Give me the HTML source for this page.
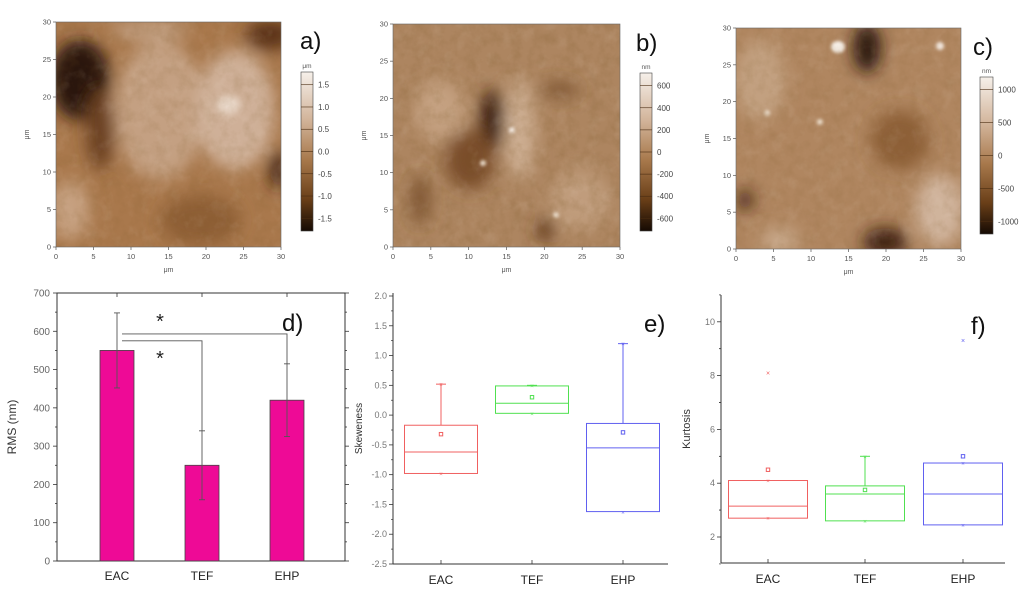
<!DOCTYPE html>
<html><head><meta charset="utf-8"><style>
html,body{margin:0;padding:0;background:#fff;}
svg{display:block;font-family:"Liberation Sans",sans-serif;}
</style></head><body>
<svg id="fig" width="1024" height="589" viewBox="0 0 1024 589" xmlns="http://www.w3.org/2000/svg">
<defs>
<filter id="blur8" x="-50%" y="-50%" width="200%" height="200%"><feGaussianBlur stdDeviation="8"/></filter>
<filter id="blur4" x="-50%" y="-50%" width="200%" height="200%"><feGaussianBlur stdDeviation="4"/></filter>
<filter id="blur2" x="-50%" y="-50%" width="200%" height="200%"><feGaussianBlur stdDeviation="1.5"/></filter>
<filter id="noise" x="0" y="0" width="100%" height="100%">
<feTurbulence type="fractalNoise" baseFrequency="0.09" numOctaves="4" seed="3"/>
<feColorMatrix type="matrix" values="0 0 0 0 0.2  0 0 0 0 0.1  0 0 0 0 0.02  1.4 0 0 0 -0.55"/>
</filter>
<filter id="noise2" x="0" y="0" width="100%" height="100%">
<feTurbulence type="fractalNoise" baseFrequency="0.07" numOctaves="4" seed="9"/>
<feColorMatrix type="matrix" values="0 0 0 0 1  0 0 0 0 0.93  0 0 0 0 0.86  1.4 0 0 0 -0.7"/>
</filter>
<linearGradient id="cbar" x1="0" y1="0" x2="0" y2="1">
<stop offset="0" stop-color="#f6f0ea"/><stop offset="0.3" stop-color="#d2b49a"/><stop offset="0.55" stop-color="#a8794c"/><stop offset="0.8" stop-color="#6a3f18"/><stop offset="1" stop-color="#150a03"/>
</linearGradient>
<clipPath id="ca"><rect x="56" y="22" width="225" height="225"/></clipPath>
<clipPath id="cb"><rect x="393" y="24" width="227" height="223"/></clipPath>
<clipPath id="cc"><rect x="736" y="28" width="225" height="221"/></clipPath>
</defs>

<!-- AFM a -->
<g clip-path="url(#ca)">
<rect x="56" y="22" width="225" height="225" fill="#a9784c"/>
<g filter="url(#blur8)">
<ellipse cx="80" cy="80" rx="30" ry="40" fill="#2a1507"/>
<ellipse cx="100" cy="130" rx="14" ry="40" fill="#6a4020"/>
<ellipse cx="160" cy="110" rx="45" ry="70" fill="#c4a082"/>
<ellipse cx="235" cy="110" rx="40" ry="60" fill="#cfb098"/>
<ellipse cx="70" cy="210" rx="20" ry="30" fill="#c6a080"/>
<ellipse cx="200" cy="220" rx="40" ry="25" fill="#8e5e36"/>
<ellipse cx="270" cy="35" rx="25" ry="15" fill="#5a3214"/>
<ellipse cx="278" cy="170" rx="8" ry="20" fill="#3a1e0a"/>
<ellipse cx="150" cy="30" rx="40" ry="10" fill="#bf9c7e"/>
</g>
<ellipse cx="228" cy="105" rx="12" ry="9" fill="#ead9cb" filter="url(#blur4)"/>
<rect x="56" y="22" width="225" height="225" filter="url(#noise)" opacity="0.2"/>
<rect x="56" y="22" width="225" height="225" filter="url(#noise2)" opacity="0.15"/>
</g>
<!-- AFM b -->
<g clip-path="url(#cb)">
<rect x="393" y="24" width="227" height="223" fill="#ad8560"/>
<g filter="url(#blur8)">
<ellipse cx="492" cy="120" rx="12" ry="30" fill="#3a1e0a"/>
<ellipse cx="470" cy="160" rx="25" ry="30" fill="#7a4e2a"/>
<ellipse cx="520" cy="130" rx="15" ry="50" fill="#cdae92"/>
<ellipse cx="440" cy="110" rx="25" ry="30" fill="#c4a080"/>
<ellipse cx="580" cy="200" rx="30" ry="30" fill="#c09c7c"/>
<ellipse cx="545" cy="230" rx="8" ry="12" fill="#5a3214"/>
<ellipse cx="420" cy="200" rx="10" ry="25" fill="#7e5430"/>
<ellipse cx="560" cy="90" rx="20" ry="8" fill="#7e5430"/>
</g>
<circle cx="512" cy="130" r="3" fill="#f5ece4" filter="url(#blur2)"/>
<circle cx="483" cy="163" r="3" fill="#eadbc9" filter="url(#blur2)"/>
<circle cx="556" cy="215" r="3" fill="#eadbc9" filter="url(#blur2)"/>
<rect x="393" y="24" width="227" height="223" filter="url(#noise)" opacity="0.28"/>
<rect x="393" y="24" width="227" height="223" filter="url(#noise2)" opacity="0.15"/>
</g>
<!-- AFM c -->
<g clip-path="url(#cc)">
<rect x="736" y="28" width="225" height="221" fill="#b08660"/>
<g filter="url(#blur8)">
<ellipse cx="867" cy="48" rx="14" ry="25" fill="#2a1507"/>
<ellipse cx="885" cy="242" rx="22" ry="14" fill="#3a1e0a"/>
<ellipse cx="745" cy="200" rx="8" ry="10" fill="#3a1e0a"/>
<ellipse cx="940" cy="210" rx="25" ry="35" fill="#d0b49c"/>
<ellipse cx="780" cy="240" rx="20" ry="12" fill="#c8a88a"/>
<ellipse cx="760" cy="80" rx="25" ry="40" fill="#c2a080"/>
<ellipse cx="900" cy="140" rx="30" ry="30" fill="#8e6038"/>
</g>
<ellipse cx="838" cy="47" rx="7" ry="6" fill="#f8f1ea" filter="url(#blur2)"/>
<circle cx="940" cy="46" r="4" fill="#f0e4da" filter="url(#blur2)"/>
<circle cx="767" cy="113" r="3" fill="#eadbc9" filter="url(#blur2)"/>
<circle cx="820" cy="122" r="3" fill="#eadbc9" filter="url(#blur2)"/>
<rect x="736" y="28" width="225" height="221" filter="url(#noise)" opacity="0.2"/>
<rect x="736" y="28" width="225" height="221" filter="url(#noise2)" opacity="0.15"/>
</g>
<g id="afmaxes"></g>
<g id="charts"></g>
</svg>
<script>
// ===== Data =====
const afmTicks = [0,5,10,15,20,25,30];
const cbarA = ["1.5","1.0","0.5","0.0","-0.5","-1.0","-1.5"];
const cbarB = ["600","400","200","0","-200","-400","-600"];
const cbarC = ["1000","500","0","-500","-1000"];

const categories = ["EAC","TEF","EHP"];
const rmsValues = [550,250,420];
const rmsErr = [98,90,95];
const rmsTicks = [0,100,200,300,400,500,600,700];

const skewQ1 = [-0.98,0.03,-1.62];
const skewQ3 = [-0.17,0.49,-0.14];
const skewMedian = [-0.62,0.2,-0.55];
const skewMean = [-0.32,0.3,-0.29];
const skewMax = [0.52,0.5,1.2];
const skewMin = [-0.98,0.03,-1.63];
const skewTicks = [2.0,1.5,1.0,0.5,0.0,-0.5,-1.0,-1.5,-2.0,-2.5];

const kurtQ1 = [2.7,2.6,2.45];
const kurtQ3 = [4.1,3.9,4.75];
const kurtMedian = [3.15,3.6,3.6];
const kurtMean = [4.5,3.75,5.0];
const kurtMax = [4.1,5.0,4.75];
const kurtMin = [2.7,2.6,2.45];
const kurtOutlier = [8.1,null,9.3];
const kurtTicks = [2,4,6,8,10];

const boxColors = ["#f06060","#50e050","#6060f0"];

const NS="http://www.w3.org/2000/svg";
function mk(parent,tag,attrs,text){const e=document.createElementNS(NS,tag);for(const k in attrs)e.setAttribute(k,attrs[k]);if(text!==undefined)e.textContent=text;parent.appendChild(e);return e;}
const A=document.getElementById('afmaxes');
const C=document.getElementById('charts');

// ===== AFM axes =====
function afmAxes(x0,y0,w,h,cb,cbLabels,unit,letter,lx){
  const g=mk(A,'g',{});
  
  
  mk(g,'rect',{x:x0,y:y0,width:w,height:h,fill:'none',stroke:'#666','stroke-width':0.6});
  afmTicks.forEach(t=>{
    const x=x0+t/30*w, y=y0+h-t/30*h;
    mk(g,'line',{x1:x,y1:y0+h,x2:x,y2:y0+h+3,stroke:'#555','stroke-width':0.7});
    const tx=mk(g,'text',{x:x,y:y0+h+12,'font-size':7.5,fill:'#555','text-anchor':'middle'},t);
    
    
    mk(g,'line',{x1:x0-3,y1:y,x2:x0,y2:y,stroke:'#555','stroke-width':0.7});
    const ty=mk(g,'text',{x:x0-5,y:y+2.5,'font-size':7.5,fill:'#555','text-anchor':'end'},t);
    
    
  });
  const xt=mk(g,'text',{x:x0+w/2,y:y0+h+25,'font-size':7,fill:'#555','text-anchor':'middle'},'μm');
  
  
  const yt=mk(g,'text',{x:0,y:0,'font-size':7,fill:'#555','text-anchor':'middle',transform:`translate(${x0-27},${y0+h/2}) rotate(-90)`},'μm');
  
  
  const cg=mk(g,'g',{});
  
  
  mk(cg,'rect',{x:cb[0],y:cb[1],width:cb[2],height:cb[3],fill:'url(#cbar)',stroke:'#444','stroke-width':0.6});
  mk(cg,'text',{x:cb[0]+cb[2]/2,y:cb[1]-4,'font-size':6.5,fill:'#555','text-anchor':'middle'},unit);
  const n=cbLabels.length;
  cbLabels.forEach((l,i)=>{
    const y=cb[1]+cb[3]*(0.08+0.84*i/(n-1));
    mk(cg,'line',{x1:cb[0],y1:y,x2:cb[0]+cb[2],y2:y,stroke:'#4a2c12','stroke-width':0.6});
    mk(cg,'text',{x:cb[0]+cb[2]+5,y:y+3,'font-size':8,fill:'#444'},l);
  });
  const lt=mk(g,'text',{x:lx,y:y0+27,'font-size':24,fill:'#111'},letter+')');
  
  
}
afmAxes(56,22,225,225,[301,72,12,159],cbarA,'μm','a',300);
afmAxes(393,24,227,223,[640,73,12,158],cbarB,'nm','b',636);
afmAxes(736,28,225,221,[980,77,13,157],cbarC,'nm','c',973);

// ===== Panel d =====
const dX0=57,dX1=345,dY0=293,dY1=561,dMax=700;
const dCat=[117,202,287];
function yD(v){return dY1-(v/dMax)*(dY1-dY0);}
const gd=mk(C,'g',{});


mk(gd,'rect',{x:dX0,y:dY0,width:dX1-dX0,height:dY1-dY0,fill:'none',stroke:'#333','stroke-width':1});
for(let v=0;v<=dMax;v+=50){
  const y=yD(v), len=v%100===0?4:2;
  mk(gd,'line',{x1:dX0-len,y1:y,x2:dX0,y2:y,stroke:'#333','stroke-width':0.8});
  mk(gd,'line',{x1:dX1,y1:y,x2:dX1+len,y2:y,stroke:'#333','stroke-width':0.8});
}
rmsTicks.forEach(v=>{
  const t=mk(gd,'text',{x:dX0-7,y:yD(v)+3.5,'font-size':10,fill:'#666','text-anchor':'end'},v);
  
  
});
const dyt=mk(gd,'text',{x:0,y:0,'font-size':12,fill:'#333','text-anchor':'middle',transform:`translate(16,${(dY0+dY1)/2}) rotate(-90)`},'RMS (nm)');


categories.forEach((c,i)=>{
  const x=dCat[i];
  mk(gd,'line',{x1:x,y1:dY0,x2:x,y2:dY0+4,stroke:'#333','stroke-width':0.8});
  mk(gd,'line',{x1:x,y1:dY1,x2:x,y2:dY1-4,stroke:'#333','stroke-width':0.8});
  const b=mk(gd,'rect',{x:x-17,y:yD(rmsValues[i]),width:34,height:dY1-yD(rmsValues[i]),fill:'#ee0a96',stroke:'#444','stroke-width':0.8});
  
  
  const eg=mk(gd,'g',{stroke:'#555','stroke-width':0.9});
  
  
  const hi=yD(rmsValues[i]+rmsErr[i]), lo=yD(rmsValues[i]-rmsErr[i]);
  mk(eg,'line',{x1:x,y1:hi,x2:x,y2:lo});
  mk(eg,'line',{x1:x-3,y1:hi,x2:x+3,y2:hi});
  mk(eg,'line',{x1:x-3,y1:lo,x2:x+3,y2:lo});
  const xl=mk(gd,'text',{x:x,y:dY1+19,'font-size':12,fill:'#222','text-anchor':'middle'},c);
  
  
});
const sg=mk(gd,'g',{stroke:'#555','stroke-width':0.9,fill:'none'});


mk(sg,'polyline',{points:`${dCat[0]+5},${yD(593)} ${dCat[2]},${yD(593)} ${dCat[2]},${yD(rmsValues[2]+rmsErr[2])}`});
mk(sg,'polyline',{points:`${dCat[0]+5},${yD(575)} ${dCat[1]},${yD(575)} ${dCat[1]},${yD(rmsValues[1]+rmsErr[1])}`});
[[160,yD(593)-6],[160,yD(575)+24]].forEach(p=>{
  const s=mk(gd,'text',{x:p[0],y:p[1],'font-size':20,fill:'#222','text-anchor':'middle'},'*');
  
  
});
const ld=mk(gd,'text',{x:282,y:331,'font-size':24,fill:'#111'},'d)');



// ===== Box plot helper =====
function boxPanel(name,X0,X1,Y0,Y1,yf,cats,ticks,tickFmt,q1,q3,med,mean,mx,mn,outl,bw,title,titleX,letter,lx,ly,minor){
  const g=mk(C,'g',{});
  
  
  mk(g,'line',{x1:X0,y1:Y0,x2:X0,y2:Y1,stroke:'#333','stroke-width':1});
  mk(g,'line',{x1:X0,y1:Y1,x2:X1,y2:Y1,stroke:'#333','stroke-width':1});
  ticks.forEach((v,i)=>{
    const y=yf(v);
    mk(g,'line',{x1:X0-4,y1:y,x2:X0,y2:y,stroke:'#333','stroke-width':0.8});
    const t=mk(g,'text',{x:X0-6,y:y+3,'font-size':9,fill:'#777','text-anchor':'end'},tickFmt(v));
    
    
    if(i<ticks.length-1){const ym=(y+yf(ticks[i+1]))/2;mk(g,'line',{x1:X0-2,y1:ym,x2:X0,y2:ym,stroke:'#333','stroke-width':0.7});}
  });
  if(minor){minor.forEach(v=>{const y=yf(v);mk(g,'line',{x1:X0-2,y1:y,x2:X0,y2:y,stroke:'#333','stroke-width':0.7});});}
  const yt=mk(g,'text',{x:0,y:0,'font-size':title==='Kurtosis'?11:10,fill:'#333','text-anchor':'middle',transform:`translate(${titleX},${(Y0+Y1)/2}) rotate(-90)`},title);
  
  
  cats.forEach((c,i)=>{
    const x=cats.pos[i], col=boxColors[i];
    mk(g,'line',{x1:x,y1:Y1,x2:x,y2:Y1-4,stroke:'#333','stroke-width':0.8});
    const xl=mk(g,'text',{x:x,y:Y1+20,'font-size':12,fill:'#222','text-anchor':'middle'},c);
    
    
    const bg=mk(g,'g',{stroke:col,'stroke-width':1,fill:'none'});
    
    
    mk(bg,'rect',{x:x-bw/2,y:yf(q3[i]),width:bw,height:yf(q1[i])-yf(q3[i])});
    mk(bg,'line',{x1:x-bw/2,y1:yf(med[i]),x2:x+bw/2,y2:yf(med[i])});
    if(mx[i]>q3[i]){mk(bg,'line',{x1:x,y1:yf(q3[i]),x2:x,y2:yf(mx[i])});mk(bg,'line',{x1:x-5,y1:yf(mx[i]),x2:x+5,y2:yf(mx[i])});}
    mk(bg,'rect',{x:x-1.7,y:yf(mean[i])-1.7,width:3.4,height:3.4});
    mk(bg,'text',{x:x,y:yf(mx[i])+2.5,'font-size':6,fill:col,stroke:'none','text-anchor':'middle'},'×');
    mk(bg,'text',{x:x,y:yf(mn[i])+2.5,'font-size':6,fill:col,stroke:'none','text-anchor':'middle'},'×');
    if(outl&&outl[i]!=null){mk(bg,'text',{x:x,y:yf(outl[i])+2.5,'font-size':7,fill:col,stroke:'none','text-anchor':'middle'},'×');}
  });
  const l=mk(g,'text',{x:lx,y:ly,'font-size':24,fill:'#111'},letter+')');
  
  
}
const eY0=296,eY1=564;
function yE(v){return eY0+(2.0-v)*(eY1-eY0)/4.5;}
const catsE=categories.slice(); catsE.pos=[441,532,623];
boxPanel('skewness-box-plot',393,668,293,eY1,yE,catsE,skewTicks,v=>v.toFixed(1),skewQ1,skewQ3,skewMedian,skewMean,skewMax,skewMin,null,73,'Skeweness',362,'e',644,332,null);
function yF(v){return 537-(v-2)*26.9;}
const catsF=categories.slice(); catsF.pos=[768,865,963];
boxPanel('kurtosis-box-plot',721,1005,295,563,yF,catsF,kurtTicks,v=>v,kurtQ1,kurtQ3,kurtMedian,kurtMean,kurtMax,kurtMin,kurtOutlier,79,'Kurtosis',690,'f',971,334,[1,3,5,7,9,11]);
</script>
</body></html>
